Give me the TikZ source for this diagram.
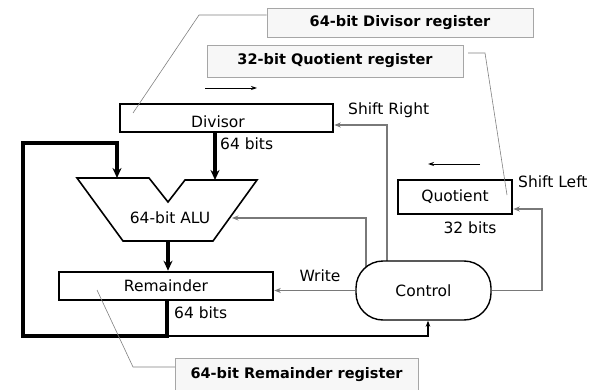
\documentclass[tikz,border=0pt]{standalone}
\usepackage{fontspec}
\setmainfont{DejaVu Sans}
\usetikzlibrary{arrows.meta,backgrounds}
\begin{document}
\begin{tikzpicture}[x=1pt,y=-1pt,
  reg/.style={draw=black,line width=2.6pt,fill=white,inner sep=0pt,font=\fontsize{15.5}{17}\selectfont},
  tag/.style={draw=gray!70,line width=0.6pt,fill=gray!6,inner sep=0pt},
  tagtxt/.style={inner sep=0pt,font=\bfseries\fontsize{14.5}{17}\selectfont},
  lbl/.style={inner sep=0pt,font=\fontsize{15.5}{17}\selectfont},
  bus/.style={line width=3.2pt,line join=miter},
  busarrow/.style={bus,-{Stealth[length=10pt,width=9pt]}},
  ctl/.style={draw=gray!95!black,line width=1.5pt,-{Stealth[length=6.5pt,width=5pt]}},
  lead/.style={draw=gray,line width=0.6pt},
  dirarrow/.style={line width=0.9pt,-{Stealth[length=6pt,width=4pt]}}]
\useasboundingbox (0,0) rectangle (607,390);

% register captions
\node[tag,minimum width=266pt,minimum height=29pt] (tdiv) at (400,22.5) {};
\node[tagtxt] (tdivtxt) at (400,22.5) {64-bit Divisor register};
\node[tag,minimum width=256pt,minimum height=32pt] (tquo) at (335,61) {};
\node[tagtxt] (tquotxt) at (335,61) {32-bit Quotient register};
\path[tag] (175,393) rectangle (418,358);
\node[tagtxt] (trem) at (296.5,375) {64-bit Remainder register};

% registers
\node[reg,minimum width=213pt,minimum height=28pt] (div) at (226.5,118) {};
\node[lbl] (divtxt) at (218,122) {Divisor};
\node[reg,minimum width=214pt,minimum height=28pt] (rem) at (166,286) {Remainder};
\node[reg,minimum width=114pt,minimum height=34pt] (quo) at (455,197) {Quotient};

% control unit
\node[draw=black,line width=1.4pt,fill=white,rounded corners=27pt,
      minimum width=135pt,minimum height=59pt,font=\fontsize{15.5}{17}\selectfont] (ctrl) at (423.5,290.5) {Control};

% ALU outline
\coordinate (alu-tl) at (77,178);
\coordinate (alu-nl) at (149,178);
\coordinate (alu-nb) at (168,202);
\coordinate (alu-nr) at (185,180);
\coordinate (alu-tr) at (257,180);
\coordinate (alu-br) at (213,241);
\coordinate (alu-bl) at (123,241);
\draw[line width=1.6pt,line join=miter,fill=white] (alu-tl) -- (alu-nl) -- (alu-nb) -- (alu-nr) -- (alu-tr) -- (alu-br) -- (alu-bl) -- cycle;
\node[lbl] (alutxt) at (170,218) {64-bit ALU};
\coordinate (alu-in) at (232,218);
\coordinate (alu-a) at (117,178);
\coordinate (alu-b) at (215,180);

% data paths
\draw[busarrow] (div.south -| alu-b) -- (alu-b);
\draw[busarrow] (alu-bl -| alu-nb) -- (rem.north -| alu-nb);
\coordinate (rem-out) at (167,300);
\coordinate (loop-a) at (167,336);
\draw[busarrow] (rem-out) -- (loop-a) -- (23,336) -- (23,143) -- (117,143) -- (alu-a);
\draw[line width=1.5pt,-{Stealth[length=6pt,width=4.5pt]}] (loop-a) -| (ctrl.south -| 428,0);

% control signals
\begin{scope}[on background layer]
\draw[ctl] (ctrl.center -| 387,0) |- (div.east |- 0,125);
\draw[ctl] (ctrl.center -| 366,0) |- (alu-in);
\end{scope}
\draw[ctl] (ctrl.west) -- (rem.east |- ctrl.west);
\draw[ctl] (ctrl.east) -| (542,209) -- (quo.east |- 0,209);

% signal and width labels
\node[lbl,anchor=west] (lw1) at (220,144) {64 bits};
\node[lbl,anchor=west] (lw2) at (174,313) {64 bits};
\node[lbl] (lw3) at (470,228) {32 bits};
\node[lbl,anchor=west] (lsr) at (348,110) {Shift Right};
\node[lbl,anchor=west] (lsl) at (518,182) {Shift Left};
\node[lbl] (lwr) at (320,276) {Write};

% shift direction marks
\draw[dirarrow] (205,88) -- (257,88);
\draw[dirarrow] (480,164) -- (428,164);

% caption leaders
\draw[lead] (tdiv.west |- 0,15) -- (199,15) -- (133,113);
\draw[lead] (468,53) -- (485,53) -- (507,195);
\draw[lead] (175,367) -- (133,367) -- (97,290);
\end{tikzpicture}
\end{document}
